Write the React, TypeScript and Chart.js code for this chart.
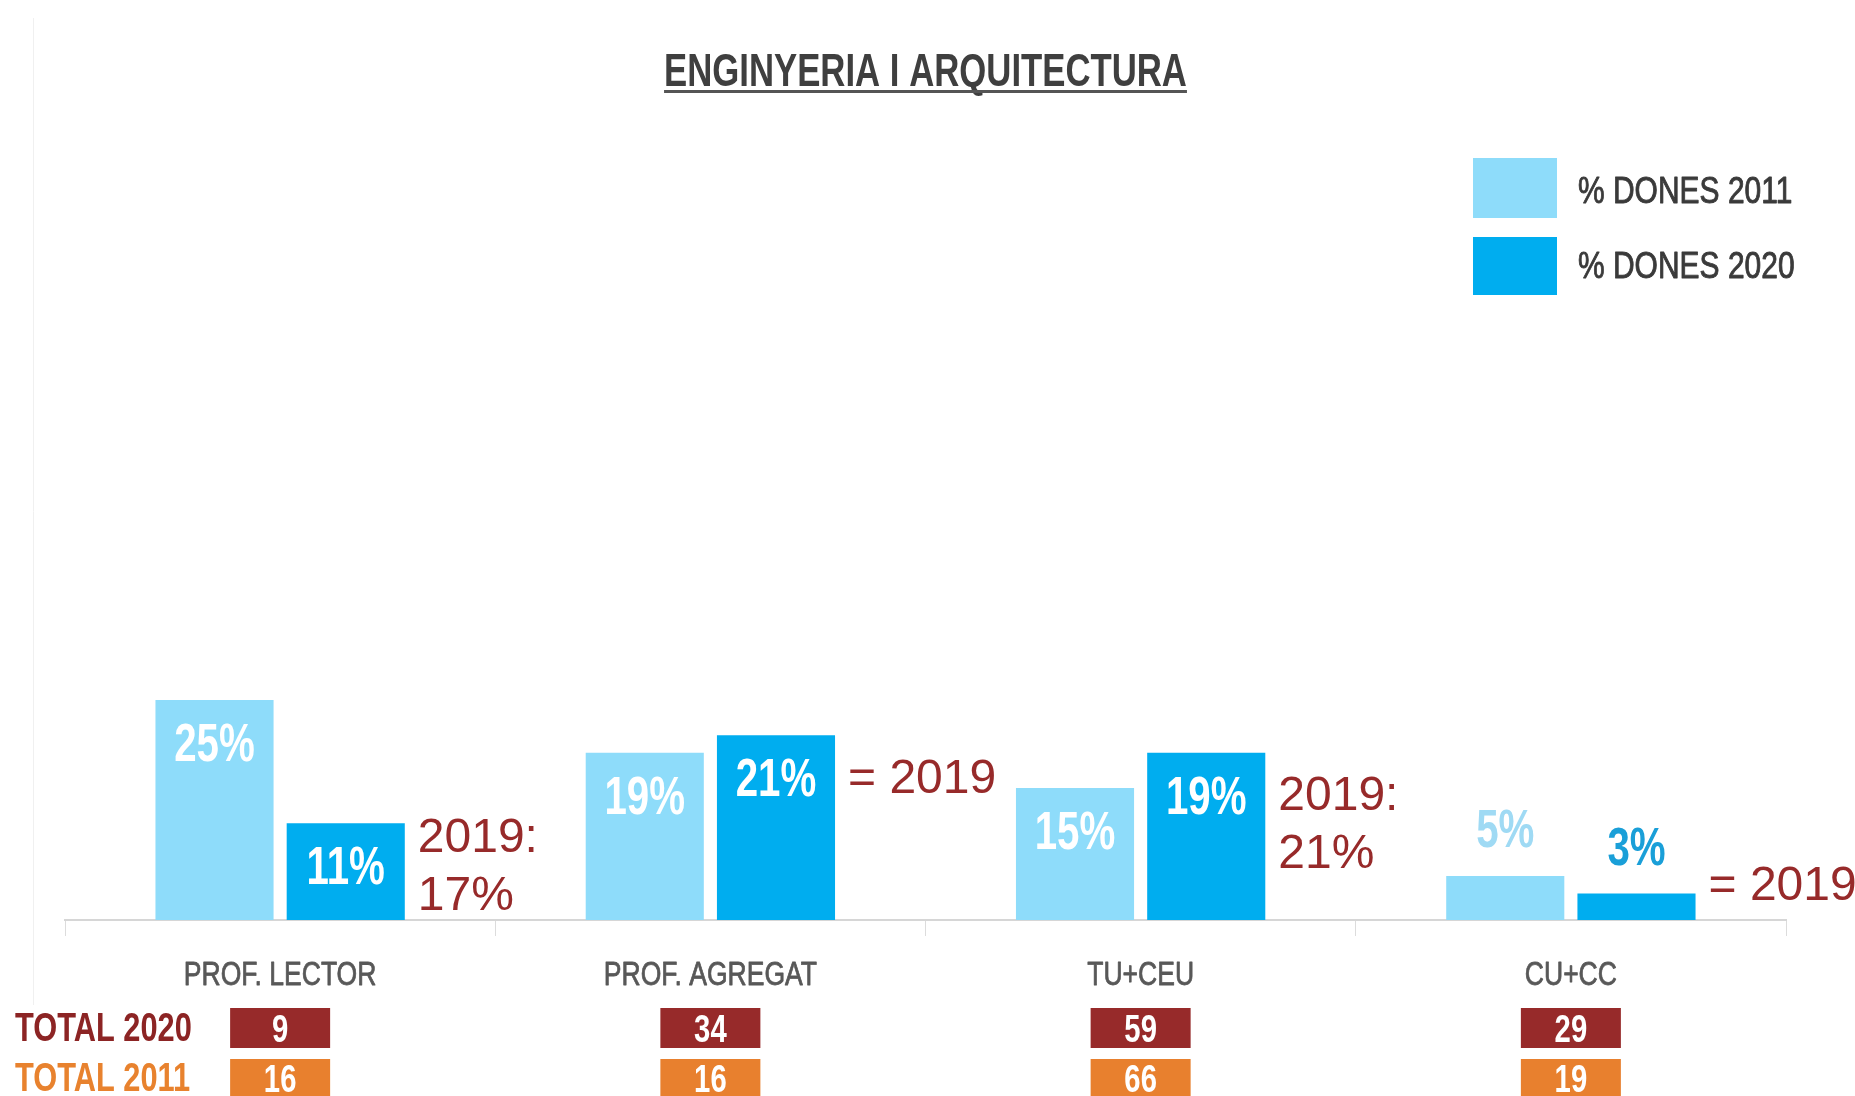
import { useEffect, useRef } from 'react';
import { Chart, registerables } from 'chart.js';

Chart.register(...registerables);

// ---------- data ----------
const categories = ['PROF. LECTOR', 'PROF. AGREGAT', 'TU+CEU', 'CU+CC'];
const seriesLabels = ['% DONES 2011', '% DONES 2020'];
const dones2011 = [25, 19, 15, 5];
const dones2020 = [11, 21, 19, 3];
const total2020 = [9, 34, 59, 29];
const total2011 = [16, 16, 66, 19];
const rowLabels = ['TOTAL 2020', 'TOTAL 2011'];
const notes2019 = [['2019:', '17%'], ['= 2019'], ['2019:', '21%'], ['= 2019']];
const subtitle = 'ENGINYERIA I ARQUITECTURA';

// ---------- styles ----------
const LIGHT = '#8edcfa';
const DARK = '#00adef';
const RED = '#972a2a';
const ORANGE = '#e8802e';
const NOTE_DY = [29, 58, 57, 6];
const FONT = '"Liberation Sans", Arial, sans-serif';

function drawText(
  ctx: CanvasRenderingContext2D,
  s: string,
  x: number,
  y: number,
  font: string,
  color: string,
  align: 'left' | 'center' | 'right',
  sx: number,
  stroke = 0
) {
  ctx.save();
  ctx.font = font;
  ctx.fillStyle = color;
  ctx.textBaseline = 'alphabetic';
  ctx.textAlign = 'left';
  const w = ctx.measureText(s).width * sx;
  const left = align === 'center' ? x - w / 2 : align === 'right' ? x - w : x;
  ctx.translate(left, y);
  ctx.scale(sx, 1);
  ctx.fillText(s, 0, 0);
  if (stroke > 0) {
    ctx.strokeStyle = color;
    ctx.lineWidth = stroke;
    ctx.lineJoin = 'round';
    ctx.strokeText(s, 0, 0);
  }
  ctx.restore();
  return { left, w };
}

const decorPlugin = {
  id: 'decor',
  afterDatasetsDraw(chart: any) {
    const ctx: CanvasRenderingContext2D = chart.ctx;
    const xs = chart.scales.x;
    const area = chart.chartArea;

    // faint left rule
    ctx.save();
    ctx.strokeStyle = '#f0f0f0';
    ctx.lineWidth = 1;
    ctx.beginPath();
    ctx.moveTo(33.5, 18);
    ctx.lineTo(33.5, 1005);
    ctx.stroke();
    ctx.restore();

    // subtitle with underline
    const cx = (area.left + area.right) / 2;
    const t = drawText(ctx, subtitle, cx, 86, `bold 46px ${FONT}`, '#3f3f3f', 'center', 0.755);
    ctx.save();
    ctx.fillStyle = '#555';
    ctx.fillRect(t.left, 90, t.w, 3);
    ctx.restore();

    // legend
    const legColors = [LIGHT, DARK];
    const legBoxes = [[158, 60], [237, 58]];
    const legBase = [203, 278];
    for (let i = 0; i < 2; i++) {
      ctx.fillStyle = legColors[i];
      ctx.fillRect(1473, legBoxes[i][0], 84, legBoxes[i][1]);
      drawText(ctx, seriesLabels[i], 1578, legBase[i], `37px ${FONT}`, '#3a3a3a', 'left', 0.81, 0.9);
    }

    // value labels
    const sets = [dones2011, dones2020];
    const smallColors = ['#9fdaf4', '#1a9fd8'];
    for (let d = 0; d < 2; d++) {
      const meta = chart.getDatasetMeta(d);
      meta.data.forEach((el: any, j: number) => {
        const v = sets[d][j];
        const s = `${v}%`;
        if (v >= 8) {
          drawText(ctx, s, el.x, el.y + 61, `bold 53px ${FONT}`, '#ffffff', 'center', 0.76);
        } else {
          drawText(ctx, s, el.x, el.y - 29, `bold 53px ${FONT}`, smallColors[d], 'center', 0.76);
        }
      });
    }

    // 2019 notes
    const meta2020 = chart.getDatasetMeta(1);
    meta2020.data.forEach((el: any, j: number) => {
      const lines = notes2019[j];
      const x = el.x + el.width / 2 + 13;
      lines.forEach((ln, k) => {
        drawText(ctx, ln, x, el.y + NOTE_DY[j] + k * 58, `48px ${FONT}`, RED, 'left', 1);
      });
    });

    // category labels & totals table
    const rows = [total2020, total2011];
    const rowColors = [RED, ORANGE];
    const rowLabelColors = ['#8c2424', '#e8822e'];
    const boxTop = [1008, 1059];
    const boxH = [40, 42];
    const numBase = [1042, 1092];
    categories.forEach((c, j) => {
      const px = xs.getPixelForValue(j);
      drawText(ctx, c, px, 985, `34px ${FONT}`, '#585858', 'center', 0.78, 0.8);
      for (let r = 0; r < 2; r++) {
        ctx.fillStyle = rowColors[r];
        ctx.fillRect(px - 50, boxTop[r], 100, boxH[r]);
        drawText(ctx, String(rows[r][j]), px, numBase[r], `bold 39px ${FONT}`, '#ffffff', 'center', 0.75);
      }
    });
    for (let r = 0; r < 2; r++) {
      drawText(ctx, rowLabels[r], 15, numBase[r] - 1, `bold 40px ${FONT}`, rowLabelColors[r], 'left', 0.77);
    }
  },
};

export default function App() {
  const ref = useRef<HTMLCanvasElement>(null);
  useEffect(() => {
    if (!ref.current) return;
    const chart = new Chart(ref.current, {
      type: 'bar',
      data: {
        labels: categories,
        datasets: [
          { label: seriesLabels[0], data: dones2011, backgroundColor: LIGHT, borderWidth: 0 },
          { label: seriesLabels[1], data: dones2020, backgroundColor: DARK, borderWidth: 0 },
        ],
      },
      options: {
        responsive: false,
        animation: false,
        events: [],
        datasets: { bar: { categoryPercentage: 0.61, barPercentage: 0.9 } },
        layout: { padding: { left: 65, right: 69, top: 40, bottom: 160 } },
        plugins: { legend: { display: false }, tooltip: { enabled: false }, title: { display: false } },
        scales: {
          x: {
            grid: { offset: true, drawOnChartArea: false, drawTicks: true, tickLength: 16, color: '#dcdcdc', lineWidth: 1 },
            border: { color: '#d6d6d6', width: 2 },
            ticks: { display: false },
          },
          y: { display: false, min: 0, max: 100 },
        },
      },
      plugins: [decorPlugin],
    });
    return () => chart.destroy();
  }, []);
  return (
    <div style={{ position: 'absolute', left: 0, top: 0, width: 1855, height: 1096, background: '#fff' }}>
      <canvas ref={ref} width={1855} height={1096} style={{ display: 'block', width: 1855, height: 1096 }} />
    </div>
  );
}
